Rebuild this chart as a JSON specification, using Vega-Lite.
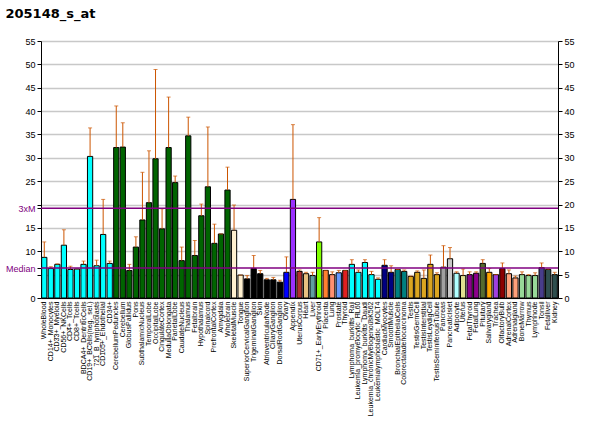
{
  "$schema": "https://vega.github.io/schema/vega-lite/v6.json",
  "autosize": "none",
  "width": 517,
  "height": 257,
  "padding": {"left": 41, "top": 41, "right": 42, "bottom": 136},
  "title": {"text": "205148_s_at", "anchor": "start", "fontSize": 13, "fontWeight": "bold", "font": "DejaVu Sans", "offset": 16},
  "data": {"values": [
    {"t": "WholeBlood", "v": 8.7, "e": 12, "g": "cyan"},
    {"t": "CD14+_Monocytes", "v": 6.3, "e": 6.7, "g": "cyan"},
    {"t": "CD33+_Myeloid", "v": 7.2, "e": 7.3, "g": "cyan"},
    {"t": "CD56+_NKCells", "v": 11.3, "e": 14.6, "g": "cyan"},
    {"t": "CD4+_Tcells", "v": 6.1, "e": 6.8, "g": "cyan"},
    {"t": "CD8+_Tcells", "v": 6.2, "e": 6.2, "g": "cyan"},
    {"t": "BDCA4+_DentriticCells", "v": 7.2, "e": 7.9, "g": "cyan"},
    {"t": "CD19+_BCells(neg._sel.)", "v": 30.3, "e": 36.4, "g": "cyan"},
    {"t": "721_B_lymphoblasts", "v": 6.9, "e": 8.1, "g": "cyan"},
    {"t": "CD105+_Endothelial", "v": 13.6, "e": 21.1, "g": "cyan"},
    {"t": "CD34+", "v": 7.4, "e": 7.9, "g": "cyan"},
    {"t": "CerebellumPeduncles", "v": 32.2, "e": 41.1, "g": "brain"},
    {"t": "Cerebellum", "v": 32.3, "e": 37.5, "g": "brain"},
    {"t": "GlobusPallidus", "v": 5.9, "e": 7.2, "g": "brain"},
    {"t": "Pons", "v": 10.9, "e": 13.1, "g": "brain"},
    {"t": "SubthalamicNucleus", "v": 16.7, "e": 26.9, "g": "brain"},
    {"t": "TemporalLobe", "v": 20.4, "e": 31.5, "g": "brain"},
    {"t": "OccipitalLobe", "v": 29.8, "e": 48.9, "g": "brain"},
    {"t": "CingulateCortex", "v": 14.8, "e": 19.1, "g": "brain"},
    {"t": "MedullaOblongata", "v": 32.2, "e": 43, "g": "brain"},
    {"t": "ParietalLobe", "v": 24.7, "e": 26.1, "g": "brain"},
    {"t": "CaudateNucleus", "v": 8, "e": 10.9, "g": "brain"},
    {"t": "Thalamus", "v": 34.7, "e": 38.7, "g": "brain"},
    {"t": "Fetalbrain", "v": 9.1, "e": 12.3, "g": "brain"},
    {"t": "Hypothalamus", "v": 17.6, "e": 20.1, "g": "brain"},
    {"t": "Spinalcord", "v": 23.8, "e": 36.6, "g": "brain"},
    {"t": "PrefrontalCortex", "v": 11.7, "e": 15.8, "g": "brain"},
    {"t": "Amygdala", "v": 13.7, "e": 13.7, "g": "brain"},
    {"t": "Wholebrain", "v": 23.1, "e": 28, "g": "brain"},
    {"t": "SkeletalMuscle", "v": 14.5, "e": 19.9, "g": "cream"},
    {"t": "Tongue", "v": 4.9, "e": 4.9, "g": "cream"},
    {"t": "SuperiorCervicalGanglion", "v": 4.1, "e": 4.8, "g": "black"},
    {"t": "TrigeminalGanglion", "v": 6.3, "e": 9.1, "g": "black"},
    {"t": "Skin", "v": 5.2, "e": 5.9, "g": "black"},
    {"t": "AtrioventricularNode", "v": 3.9, "e": 4.2, "g": "black"},
    {"t": "CiliaryGanglion", "v": 3.9, "e": 4.4, "g": "black"},
    {"t": "DorsalRootGanglion", "v": 3.4, "e": 3.8, "g": "black"},
    {"t": "Ovary", "v": 5.5, "e": 8.8, "g": "blue"},
    {"t": "Appendix", "v": 21.1, "e": 37.1, "g": "purple"},
    {"t": "UterusCorpus", "v": 5.7, "e": 6, "g": "brick"},
    {"t": "Heart", "v": 5.2, "e": 5.5, "g": "tan"},
    {"t": "Liver", "v": 4.8, "e": 5.5, "g": "steel"},
    {"t": "CD71+_EarlyErythroid", "v": 12, "e": 17.2, "g": "lime"},
    {"t": "Placenta", "v": 5.9, "e": 5.9, "g": "orange"},
    {"t": "Lung", "v": 5, "e": 5.6, "g": "salmon"},
    {"t": "Prostate", "v": 5.4, "e": 5.9, "g": "ltblue"},
    {"t": "Thyroid", "v": 5.9, "e": 5.9, "g": "red"},
    {"t": "Lymphoma_burkitts_Raji", "v": 7.2, "e": 8.2, "g": "cyan"},
    {"t": "Leukemia_promyelocytic_HL60", "v": 5.5, "e": 6, "g": "cyan"},
    {"t": "Lymphoma_burkitts_Daudi", "v": 7.6, "e": 8.2, "g": "cyan"},
    {"t": "Leukemia_chronicMyelogenousK562", "v": 5, "e": 5.7, "g": "cyan"},
    {"t": "Leukemialymphoblastic_MOLT4", "v": 4, "e": 4.3, "g": "cyan"},
    {"t": "CardiacMyocytes", "v": 7, "e": 8.2, "g": "navy"},
    {"t": "SmoothMuscle", "v": 5.5, "e": 6.9, "g": "navy"},
    {"t": "BronchialEpithelialCells", "v": 6.1, "e": 6.1, "g": "teal"},
    {"t": "Colorectaladenocarcinoma", "v": 5.7, "e": 6, "g": "teal"},
    {"t": "Testis", "v": 4.6, "e": 4.7, "g": "gold"},
    {"t": "TestisGermCell", "v": 5.5, "e": 5.8, "g": "gold"},
    {"t": "TestisInterstitial", "v": 4.2, "e": 6, "g": "gold"},
    {"t": "TestisLeydigCell", "v": 7.2, "e": 9.2, "g": "gold"},
    {"t": "TestisSeminiferousTubule", "v": 5, "e": 5.4, "g": "gold"},
    {"t": "Pancreas", "v": 6.6, "e": 11.2, "g": "gray"},
    {"t": "PancreaticIslet", "v": 8.4, "e": 10.8, "g": "ltgray"},
    {"t": "Adipocyte", "v": 5.3, "e": 5.6, "g": "paleaqua"},
    {"t": "Uterus", "v": 4.8, "e": 6.2, "g": "khaki"},
    {"t": "FetalThyroid", "v": 5, "e": 5.6, "g": "magenta"},
    {"t": "FetalLung", "v": 5.3, "e": 5.6, "g": "magenta"},
    {"t": "Pituitary", "v": 7.4, "e": 8.2, "g": "olive"},
    {"t": "Salivarygland", "v": 5.5, "e": 6.3, "g": "amber"},
    {"t": "Trachea", "v": 5, "e": 5, "g": "violet"},
    {"t": "OlfactoryBulb", "v": 6.3, "e": 7.5, "g": "darkred"},
    {"t": "AdrenalCortex", "v": 5.2, "e": 6, "g": "peach"},
    {"t": "Adrenalgland", "v": 4.3, "e": 4.7, "g": "peach"},
    {"t": "BoneMarrow", "v": 5, "e": 5.6, "g": "mint"},
    {"t": "Thymus", "v": 4.8, "e": 5, "g": "mint"},
    {"t": "Lymphnode", "v": 4.8, "e": 5.4, "g": "mint"},
    {"t": "Tonsil", "v": 6.5, "e": 7.5, "g": "slate"},
    {"t": "Fetalliver", "v": 6.1, "e": 6.2, "g": "dkslate"},
    {"t": "Kidney", "v": 5, "e": 5.5, "g": "dkslate"}
  ]},
  "encoding": {
    "x": {"field": "t", "type": "nominal", "sort": null, "title": null,
      "scale": {"paddingInner": 0.2, "paddingOuter": 0.1},
      "axis": {"labelAngle": -90, "labelFontSize": 7, "labelFont": "Liberation Sans", "ticks": false, "domainColor": "black", "labelPadding": 3, "labelColor": "black"}}
  },
  "layer": [
    {
      "mark": {"type": "bar", "stroke": "black", "strokeWidth": 1},
      "encoding": {
        "y": {"field": "v", "type": "quantitative", "title": null,
          "scale": {"domain": [0, 55], "nice": false},
          "axis": {"values": [0, 5, 10, 15, 20, 25, 30, 35, 40, 45, 50, 55], "grid": true, "gridColor": "#c8c8c8", "gridWidth": 1.5, "orient": "right", "labelFontSize": 9, "labelFont": "Liberation Sans", "tickColor": "black", "domainColor": "black", "labelColor": "black", "tickSize": 4}},
        "color": {"field": "g", "type": "nominal", "legend": null,
          "scale": {
            "domain": ["cyan", "brain", "cream", "black", "blue", "purple", "brick", "tan", "steel", "lime", "orange", "salmon", "ltblue", "red", "navy", "teal", "gold", "gray", "ltgray", "paleaqua", "khaki", "magenta", "olive", "amber", "violet", "darkred", "peach", "mint", "slate", "dkslate"],
            "range": ["#00FFFF", "#006400", "#FFF0D0", "#000000", "#0000FF", "#9B30FF", "#B03030", "#E8C080", "#5F9EA0", "#80FF00", "#FF7F30", "#FF9070", "#6699FF", "#E02020", "#000080", "#008080", "#DAA520", "#A0A0A0", "#C8C8C8", "#B0FFFF", "#E0E090", "#8B008B", "#556B2F", "#FFA500", "#A040E0", "#8B0000", "#FFA07A", "#98D898", "#483D8B", "#2F4F4F"]
          }}
      }
    },
    {
      "mark": {"type": "rule", "color": "#CC5500", "strokeWidth": 1},
      "encoding": {"y": {"field": "v", "type": "quantitative", "axis": null}, "y2": {"field": "e"}}
    },
    {
      "mark": {"type": "tick", "color": "#CC5500", "thickness": 1, "size": 4},
      "encoding": {"y": {"field": "e", "type": "quantitative", "axis": null}}
    },
    {
      "data": {"values": [{"k": "Median", "y": 6.4}, {"k": "3xM", "y": 19.2}]},
      "mark": {"type": "rule", "color": "#800080", "strokeWidth": 1.5},
      "encoding": {
        "x": null,
        "y": {"field": "y", "type": "quantitative",
          "axis": {"orient": "left", "values": [0, 5, 6.4, 10, 15, 19.2, 20, 25, 30, 35, 40, 45, 50, 55], "grid": false, "title": null,
            "labelExpr": "datum.value == 6.4 ? 'Median' : datum.value == 19.2 ? '3xM' : (datum.value == 20 || datum.value == 5 ? '' : datum.label)",
            "labelColor": {"condition": {"test": "datum.value == 6.4 || datum.value == 19.2", "value": "#800080"}, "value": "black"},
            "labelFontSize": 9, "labelFont": "Liberation Sans", "tickSize": 4, "tickColor": "black", "domainColor": "black"}}
      }
    }
  ],
  "resolve": {"scale": {"y": "shared"}, "axis": {"y": "independent"}},
  "config": {"view": {"stroke": null}, "background": "white"}
}
